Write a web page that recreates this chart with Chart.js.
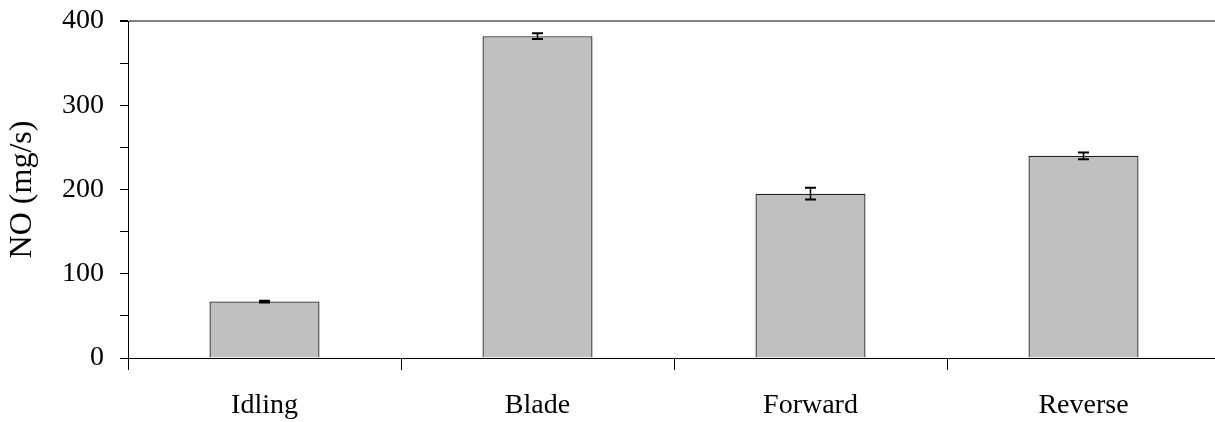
<!DOCTYPE html>
<html><head><meta charset="utf-8">
<script src="https://cdn.jsdelivr.net/npm/chart.js@4.4.1/dist/chart.umd.min.js"></script>
<style>html,body{margin:0;padding:0;overflow:hidden;background:#fff}#wrap{width:1220px;height:422px}</style>
</head><body><div id="wrap"><canvas id="c" width="1220" height="422"></canvas></div>
<script>
const categories = ["Idling", "Blade", "Forward", "Reverse"];
const noValues = [67, 382, 195, 240];
const noErrors = [1, 3.5, 7, 4];
const yTickMax = 400;
const yStep = 25;

const errorBarPlugin = {
  id: 'errorBars',
  afterDatasetsDraw(chart) {
    const ctx = chart.ctx;
    const meta = chart.getDatasetMeta(0);
    const ys = chart.scales.y;
    ctx.save();
    ctx.strokeStyle = '#000';
    meta.data.forEach((bar, i) => {
      const v = noValues[i], e = noErrors[i];
      const yTop = ys.getPixelForValue(v + e);
      const yBot = ys.getPixelForValue(v - e);
      const x = bar.x;
      ctx.lineWidth = 1.5;
      ctx.beginPath();
      ctx.moveTo(x, yTop); ctx.lineTo(x, yBot); ctx.stroke();
      ctx.lineWidth = 2;
      ctx.beginPath();
      ctx.moveTo(x - 5.5, yTop); ctx.lineTo(x + 5.5, yTop);
      ctx.moveTo(x - 5.5, yBot); ctx.lineTo(x + 5.5, yBot);
      ctx.stroke();
    });
    ctx.restore();
  }
};

new Chart(document.getElementById('c'), {
  type: 'bar',
  data: {
    labels: categories,
    datasets: [{
      data: noValues,
      backgroundColor: '#C0C0C0',
      borderColor: '#222',
      borderWidth: 1.3,
      barPercentage: 0.403,
      categoryPercentage: 1
    }]
  },
  options: {
    responsive: false,
    animation: false,
    layout: { padding: { top: 21, right: 0, left: 0, bottom: 0 } },
    plugins: { legend: { display: false }, tooltip: { enabled: false } },
    scales: {
      x: {
        afterFit(s) { s.height = 64; s.paddingLeft = 0; s.paddingRight = 0; },
        border: { color: '#000', width: 1 },
        grid: { drawOnChartArea: false, offset: true, tickLength: 12, color: '#000', tickColor: '#000' },
        ticks: { color: '#000', padding: 19, font: { family: 'Liberation Serif', size: 28 } }
      },
      y: {
        min: 0, max: yTickMax,
        afterFit(s) { s.width = 128; s.paddingTop = 0; s.paddingBottom = 0; },
        border: { color: '#000', width: 1 },
        grid: {
          color: (c) => (c.tick && c.tick.value === yTickMax) ? '#808080' : 'rgba(0,0,0,0)',
          lineWidth: (c) => (c.tick && c.tick.value === yTickMax) ? 2 : 1,
          tickColor: '#000',
          tickLength: 8
        },
        ticks: {
          stepSize: yStep,
          color: '#000',
          padding: 16,
          font: { family: 'Liberation Serif', size: 28 },
          callback: (v) => (v % 100 === 0 ? String(v) : '')
        },
        title: {
          display: true,
          text: 'NO (mg/s)',
          color: '#000',
          padding: { top: 3, bottom: 0 },
          font: { family: 'Liberation Serif', size: 32 }
        }
      }
    }
  },
  plugins: [errorBarPlugin]
});
</script>
</body></html>
